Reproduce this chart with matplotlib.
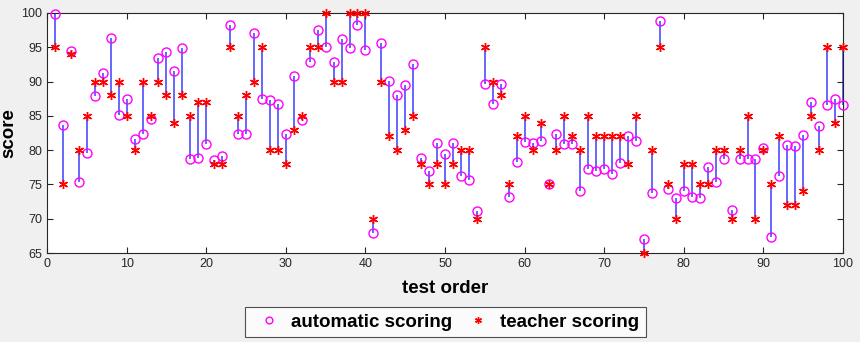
import matplotlib
matplotlib.use("Agg")
import matplotlib.pyplot as plt
import numpy as np

plt.rcParams['font.family'] = ['Liberation Sans', 'DejaVu Sans']

order = np.arange(1, 101)

# automatic scoring (circles)
auto = [99.8, 83.6, 94.5, 75.3, 79.6, 87.9, 91.2, 96.4, 85.1, 87.5,
        81.7, 82.3, 84.5, 93.5, 94.3, 91.6, 94.9, 78.7, 78.9, 80.9,
        78.6, 79.2, 98.2, 82.4, 82.3, 97.1, 87.5, 87.3, 86.8, 82.4,
        90.8, 84.4, 92.9, 97.5, 95.0, 92.8, 96.2, 94.9, 98.3, 94.6,
        67.9, 95.6, 90.1, 88.0, 89.5, 92.6, 78.9, 77.0, 81.0, 79.5,
        81.0, 76.2, 75.7, 71.2, 89.6, 86.7, 89.6, 73.2, 78.3, 81.2,
        81.1, 81.4, 75.1, 82.3, 80.9, 80.9, 74.0, 77.2, 77.0, 77.2,
        76.6, 78.2, 82.1, 81.4, 67.1, 73.8, 98.9, 74.3, 73.0, 74.0,
        73.2, 73.0, 77.5, 75.3, 78.7, 71.3, 78.7, 78.7, 78.7, 80.3,
        67.4, 76.3, 80.8, 80.6, 82.2, 87.0, 83.5, 86.6, 87.4, 86.6]

# teacher scoring (asterisks)
teacher = [95, 75, 94, 80, 85, 90, 90, 88, 90, 85,
           80, 90, 85, 90, 88, 84, 88, 85, 87, 87,
           78, 78, 95, 85, 88, 90, 95, 80, 80, 78,
           83, 85, 95, 95, 100, 90, 90, 100, 100, 100,
           70, 90, 82, 80, 83, 85, 78, 75, 78, 75,
           78, 80, 80, 70, 95, 90, 88, 75, 82, 85,
           80, 84, 75, 80, 85, 82, 80, 85, 82, 82,
           82, 82, 78, 85, 65, 80, 95, 75, 70, 78,
           78, 75, 75, 80, 80, 70, 80, 85, 70, 80,
           75, 82, 72, 72, 74, 85, 80, 95, 84, 95]

fig = plt.figure(figsize=(8.6, 3.42), dpi=100, facecolor='#f0f0f0')
ax = fig.add_axes([0.0547, 0.260, 0.9256, 0.702])
ax.set_facecolor('white')

ax.vlines(order, auto, teacher, color='#5a5aff', lw=1.3, zorder=1)
ax.plot(order, auto, 'o', mfc='none', mec='#ff00ff', ms=6.5, mew=1.0,
        label='automatic scoring', zorder=3, clip_on=False)
ax.plot(order, teacher, ls='none', marker=(6, 2, 0), color='red', ms=6.5, mew=1.0,
        label='teacher scoring', zorder=4, clip_on=False)

ax.set_xlim(0, 100)
ax.set_ylim(65, 100)
ax.set_xticks(np.arange(0, 101, 10))
ax.set_yticks(np.arange(65, 101, 5))
ax.tick_params(direction='in', top=True, right=True, labelsize=9, length=4,
               colors='#262626', labelcolor='#262626')
for s in ax.spines.values():
    s.set_color('#262626')
    s.set_linewidth(0.8)
    s.set_zorder(2)

ax.set_xlabel('test order', fontsize=13.5, fontweight='bold', labelpad=7)
ax.set_ylabel('score', fontsize=13.5, fontweight='bold', labelpad=3)

leg = fig.legend(loc='center', bbox_to_anchor=(0.518, 0.058), ncol=2,
                 prop={'weight': 'bold', 'size': 13.5}, frameon=True,
                 fancybox=False, edgecolor='#262626', handletextpad=0.3,
                 columnspacing=0.45, borderpad=0.35, handlelength=1.8,
                 markerscale=0.75)
leg.get_frame().set_linewidth(0.8)

fig.savefig('out.png', dpi=100, facecolor=fig.get_facecolor())
